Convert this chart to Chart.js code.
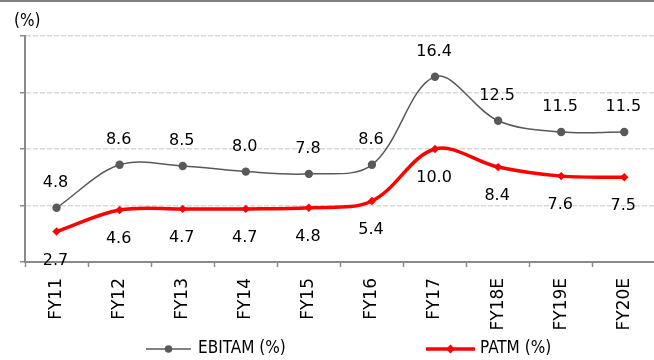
<!DOCTYPE html>
<html>
<head>
<meta charset="utf-8">
<script src="https://cdn.jsdelivr.net/npm/chart.js@4"></script>
<style>
  html, body { margin: 0; padding: 0; background: #fff; overflow: hidden; }
  #wrap { position: relative; width: 654px; height: 360px; overflow: hidden; }
  #topRule { position: absolute; left: 0; top: 0; width: 654px; height: 2px; background: #808080; z-index: 2; }
  canvas { position: absolute; left: 0; top: 0; }
</style>
</head>
<body>
<div id="wrap">
  <div id="topRule"></div>
  <canvas id="c" width="660" height="360"></canvas>
</div>
<script>
// Margins by financial year
const categories = ['FY11', 'FY12', 'FY13', 'FY14', 'FY15', 'FY16', 'FY17', 'FY18E', 'FY19E', 'FY20E'];
const ebitam = [4.8, 8.6, 8.5, 8.0, 7.8, 8.6, 16.4, 12.5, 11.5, 11.5];
const patm = [2.7, 4.6, 4.7, 4.7, 4.8, 5.4, 10.0, 8.4, 7.6, 7.5];
const seriesNames = ['EBITAM (%)', 'PATM (%)'];
const yMin = 0, yMax = 20, yStep = 5;
const unitLabel = '(%)';

const FONT = 'DejaVu Sans';
const GREY = '#595959';
const RED = '#ff0000';
const AXIS = '#8a8a8a';

// Value labels above / below each point
const valueLabels = {
  id: 'valueLabels',
  afterDatasetsDraw(chart) {
    const ctx = chart.ctx;
    ctx.save();
    ctx.font = '16px "' + FONT + '"';
    ctx.fillStyle = '#000';
    ctx.textAlign = 'center';
    ctx.textBaseline = 'middle';
    chart.data.datasets.forEach((ds, i) => {
      const meta = chart.getDatasetMeta(i);
      meta.data.forEach((pt, j) => {
        ctx.fillText(ds.data[j].toFixed(1), pt.x - 1, pt.y + ds.labelOffset);
      });
    });
    ctx.restore();
  }
};

// Unit caption and line-style legend
const decorations = {
  id: 'decorations',
  afterDraw(chart) {
    const ctx = chart.ctx;
    ctx.save();
    ctx.fillStyle = '#000';
    ctx.font = '17px "DejaVu Sans Condensed", "' + FONT + '"';
    ctx.textAlign = 'left';
    ctx.textBaseline = 'middle';
    ctx.fillText(unitLabel, 14, 22);

    const items = [
      { x0: 146, x1: 191, text: 198, ds: chart.data.datasets[0] },
      { x0: 426, x1: 475, text: 480, ds: chart.data.datasets[1] }
    ];
    const y = 349;
    items.forEach((it, i) => {
      ctx.strokeStyle = it.ds.borderColor;
      ctx.lineWidth = it.ds.borderWidth;
      ctx.beginPath();
      ctx.moveTo(it.x0, y);
      ctx.lineTo(it.x1, y);
      ctx.stroke();
      const cx = (it.x0 + it.x1) / 2;
      ctx.fillStyle = it.ds.borderColor;
      ctx.beginPath();
      if (it.ds.pointStyle === 'rectRot') {
        const r = 4.5;
        ctx.moveTo(cx, y - r); ctx.lineTo(cx + r, y); ctx.lineTo(cx, y + r); ctx.lineTo(cx - r, y);
        ctx.closePath();
      } else {
        ctx.arc(cx, y, 3.8, 0, Math.PI * 2);
      }
      ctx.fill();
      ctx.fillStyle = '#000';
      ctx.font = '17px "DejaVu Sans Condensed", "' + FONT + '"';
      ctx.fillText(seriesNames[i], it.text, y);
    });
    ctx.restore();
  }
};

new Chart(document.getElementById('c'), {
  type: 'line',
  data: {
    labels: categories,
    datasets: [
      {
        label: seriesNames[0],
        data: ebitam,
        borderColor: GREY,
        backgroundColor: GREY,
        borderWidth: 1.5,
        pointStyle: 'circle',
        pointRadius: 4.2,
        pointBorderWidth: 0,
        pointBackgroundColor: GREY,
        tension: 0.35,
        labelOffset: -25
      },
      {
        label: seriesNames[1],
        data: patm,
        borderColor: RED,
        backgroundColor: RED,
        borderWidth: 3.5,
        pointStyle: 'rectRot',
        pointRadius: 4.2,
        pointBorderWidth: 0,
        pointBackgroundColor: RED,
        tension: 0.35,
        labelOffset: 29
      }
    ]
  },
  options: {
    responsive: false,
    animation: false,
    devicePixelRatio: 1,
    layout: { padding: { top: 36, right: 2, left: 0, bottom: 0 } },
    plugins: {
      legend: { display: false },
      tooltip: { enabled: false }
    },
    scales: {
      x: {
        offset: true,
        grid: {
          offset: true,
          drawOnChartArea: false,
          drawTicks: true,
          tickLength: 5,
          tickColor: AXIS,
          tickWidth: 1.5
        },
        border: { color: AXIS, width: 2 },
        ticks: {
          minRotation: 90,
          maxRotation: 90,
          padding: 11,
          color: '#000',
          font: { family: FONT, size: 17 }
        },
        afterFit(scale) { scale.height = 98; }
      },
      y: {
        min: yMin,
        max: yMax,
        ticks: { stepSize: yStep, display: false },
        grid: {
          color: '#d9d9d9',
          lineWidth: 1.5,
          tickBorderDash: [],
          tickLength: 5,
          tickColor: AXIS,
          tickWidth: 1.5
        },
        border: { color: AXIS, width: 2, dash: [5, 2] },
        afterFit(scale) { scale.width = 25; }
      }
    }
  },
  plugins: [valueLabels, decorations]
});
</script>
</body>
</html>
